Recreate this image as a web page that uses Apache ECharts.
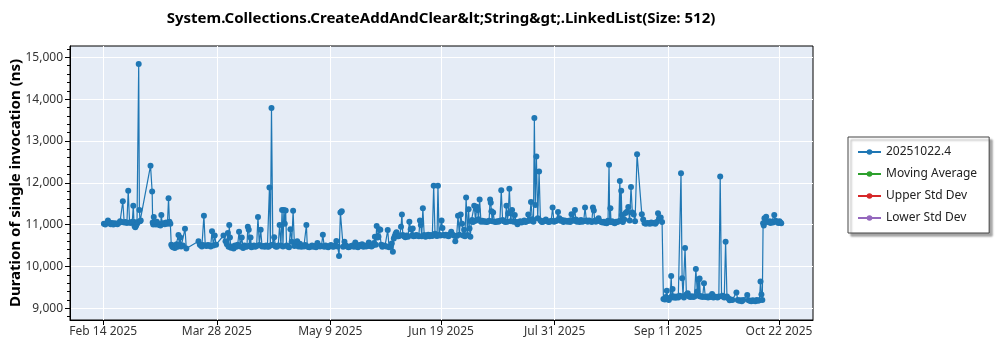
<!DOCTYPE html>
<html>
<head>
<meta charset="utf-8">
<script src="https://cdn.jsdelivr.net/npm/echarts@6/dist/echarts.min.js"></script>
<style>
  html, body { margin: 0; padding: 0; background: #ffffff; }
  #chart { width: 1000px; height: 350px; }
</style>
</head>
<body>
<div id="chart"></div>
<script>
// Benchmark run dates; each entry lists the timings (ns) recorded that day.
const runDates = [
  '2025-02-14','2025-02-15','2025-02-16','2025-02-17','2025-02-18','2025-02-19','2025-02-20','2025-02-21',
  '2025-02-22','2025-02-23','2025-02-24','2025-02-25','2025-02-26','2025-02-27','2025-03-03','2025-03-04',
  '2025-03-05','2025-03-06','2025-03-07','2025-03-08','2025-03-09','2025-03-10','2025-03-11','2025-03-12',
  '2025-03-13','2025-03-14','2025-03-15','2025-03-16','2025-03-21','2025-03-22','2025-03-23','2025-03-24',
  '2025-03-25','2025-03-26','2025-03-27','2025-03-30','2025-03-31','2025-04-01','2025-04-02','2025-04-03',
  '2025-04-04','2025-04-05','2025-04-06','2025-04-07','2025-04-08','2025-04-09','2025-04-10','2025-04-11',
  '2025-04-12','2025-04-13','2025-04-14','2025-04-15','2025-04-16','2025-04-17','2025-04-18','2025-04-19',
  '2025-04-20','2025-04-21','2025-04-22','2025-04-23','2025-04-24','2025-04-25','2025-04-26','2025-04-27',
  '2025-04-28','2025-04-29','2025-04-30','2025-05-01','2025-05-02','2025-05-03','2025-05-04','2025-05-05',
  '2025-05-06','2025-05-07','2025-05-08','2025-05-09','2025-05-10','2025-05-11','2025-05-12','2025-05-13',
  '2025-05-14','2025-05-15','2025-05-16','2025-05-17','2025-05-18','2025-05-19','2025-05-20','2025-05-21',
  '2025-05-22','2025-05-23','2025-05-24','2025-05-25','2025-05-26','2025-05-27','2025-05-28','2025-05-29',
  '2025-05-30','2025-05-31','2025-06-01','2025-06-02','2025-06-03','2025-06-04','2025-06-05','2025-06-06',
  '2025-06-07','2025-06-08','2025-06-09','2025-06-10','2025-06-11','2025-06-12','2025-06-13','2025-06-14',
  '2025-06-15','2025-06-16','2025-06-17','2025-06-18','2025-06-19','2025-06-20','2025-06-21','2025-06-22',
  '2025-06-23','2025-06-24','2025-06-25','2025-06-26','2025-06-27','2025-06-28','2025-06-29','2025-06-30',
  '2025-07-01','2025-07-02','2025-07-03','2025-07-04','2025-07-05','2025-07-06','2025-07-07','2025-07-08',
  '2025-07-09','2025-07-10','2025-07-11','2025-07-12','2025-07-13','2025-07-14','2025-07-15','2025-07-16',
  '2025-07-17','2025-07-18','2025-07-19','2025-07-20','2025-07-21','2025-07-22','2025-07-23','2025-07-24',
  '2025-07-25','2025-07-26','2025-07-27','2025-07-28','2025-07-29','2025-07-30','2025-07-31','2025-08-01',
  '2025-08-02','2025-08-03','2025-08-04','2025-08-05','2025-08-06','2025-08-07','2025-08-08','2025-08-09',
  '2025-08-10','2025-08-11','2025-08-12','2025-08-13','2025-08-14','2025-08-15','2025-08-16','2025-08-17',
  '2025-08-18','2025-08-19','2025-08-20','2025-08-21','2025-08-22','2025-08-23','2025-08-24','2025-08-25',
  '2025-08-26','2025-08-27','2025-08-28','2025-08-29','2025-08-30','2025-09-01','2025-09-02','2025-09-03',
  '2025-09-04','2025-09-05','2025-09-06','2025-09-07','2025-09-08','2025-09-09','2025-09-10','2025-09-11',
  '2025-09-12','2025-09-13','2025-09-14','2025-09-15','2025-09-16','2025-09-17','2025-09-18','2025-09-19',
  '2025-09-20','2025-09-21','2025-09-22','2025-09-23','2025-09-24','2025-09-25','2025-09-26','2025-09-27',
  '2025-09-28','2025-09-29','2025-09-30','2025-10-01','2025-10-02','2025-10-03','2025-10-04','2025-10-06',
  '2025-10-07','2025-10-08','2025-10-10','2025-10-11','2025-10-12','2025-10-13','2025-10-14','2025-10-15',
  '2025-10-16','2025-10-17','2025-10-18','2025-10-19','2025-10-20','2025-10-21','2025-10-22'
];

const durations = [
  [11020,11000],[11030,11100],[11050,11010],[11040,11000],[11030,11020],[11010,11040],[11080,11060],[11560,11050],
  [11060,11040],[11810,11050],[11040,11070],[11450,11060,10960,10940],[10980,11020,11060],[14840,11350,11080,11100],[12410],[11790,11050,11000,11180,11030],
  [11040,11000,11070],[11020,10990],[10980,11230,11020],[11030,11010],[11050,11020],[11630,11070,11020],[10520,10480,10460],[10500,10440,10490],
  [10530,10470,10750],[10520,10690,10480],[10500],[10900,10430],[10600,10520],[10500,10480,10510],[11210,10500],[10490,10510],
  [10500,10480],[10840,10500],[10740,10520],[10740],[10600,10530],[10800,10470,10990,10690],[10450,10480],[10430,10500],
  [10470,10520],[10830,10480],[10690,10440],[10500,10470],[10480,10950,10880],[10500,10690,10460],[10480,10500],[10470,10490],
  [11180,10510],[10880,10480],[10490,10470],[10500,10480],[10470,11890,10500],[13790,10520],[10700,10480],[10470,10500],
  [10990,10500],[11350,10480,11350],[11020,11340,10500],[10480,10460],[10890,10590],[11330,10490],[10510,10600],[10480,10540],
  [10470,10500],[10480,10510],[10990,10480,10470],[10460,10480],[10500,10470],[10490,10460],[10560,10500],[10480,10490],
  [10760,10470],[10500,10480],[10460,10490],[10510,10480],[10470,10500],[10610,10480],[10250,11290],[11320,10470],
  [10590,10500],[10480,10460],[10470,10490],[10500,10470],[10570,10480],[10460,10510],[10490,10530],[10470,10500],
  [10480,10490],[10570,10490],[10480,10500],[10560,10710,10520],[10970,10690,10710],[10890,10880,10520],[10470,10500],[10490,10480],
  [10870,10460],[10480,10550],[10350,10670,10720],[10780,10820,10720],[10720,10740],[10950,11240,10750],[10720,10700],[10740,10710],
  [11070,10890],[10740,10910,10720],[10730,10750],[10740,10720],[11100,10990,10720],[11390,10750],[10710,10740],[10760,10720],
  [10750,10730],[11930,10780],[10740,10730,11930],[10760,10740],[11100,10920,10750],[10740,10760],[10740,10720],[10770,10830],
  [10760,10740],[10600,10730],[11210,10760],[11240,11020],[10740,10880,10720],[11650,10750],[11370,10910,10710],[11080,11110,11060],
  [11450,11090],[11430,11350,11130],[11600,11070],[11090,11070],[11080,11060],[11070,11090],[11600,11520,11320,11080],[11290,11070],
  [11060,11080],[11070,11090],[11820,11110],[11080,11060],[11450,11070,11270],[11860,11080],[11350,11070],[11230,11060],
  [11010,11060],[11080,11050],[11070,11100],[11060,11080],[11240,11090],[11540,11130],[11070,13550,11470],[12630,11150],
  [12270,11100],[11060,11070],[11090,11120],[11080,11060],[11070,11090],[11410,11070],[11080,11100],[11300,11150],
  [11090,11110],[11060,11100],[11080,11070],[11090,11060],[11250,11110],[11090,11350,11120],[11070,11090],[11060,11110],
  [11070,11080],[11410,11100],[11070,11100],[11080,11060],[11410,11340,11090],[11070,11110],[11150,11080],[11060,11050],
  [11070,11040],[11030,11090],[12430,11070,11390,11060],[11080,11050],[11030,11070],[11060,11080],[12040,11100,11810,11230],[11060,11120],
  [11280,11310],[11420,11100],[11900,11290],[11240,11080],[12680],[11250,11120],[11030,11020],[11040,11030],
  [11020,11050],[11030,11040],[11020,11060],[11270,11150],[11170,11060],[9220,9210],[9270,9420,9230],[9200,9250],
  [9770,9290,9460,9260],[9280,9250],[9280,9260],[9300,12230],[9720,9290,9260],[10440,9330],[9360,9280],[9270,9290],
  [9270,9280],[9940,9400],[9680,9300,9710,9280],[9290,9270],[9600,9270],[9280,9260],[9290,9270],[9340,9260],
  [9280,9270],[9260,9280],[12150,9290],[9300,9260],[10590,9280],[9240,9190],[9210,9200],[9380,9200],
  [9180,9190],[9170,9200],[9320,9190],[9180,9170],[9190,9180],[9170,9200],[9180,9190],[9640,9330,9200],
  [11030,10980,11150,11060],[11190,11070],[11060,11080,11040],[11070,11050],[11230,11090],[11060,11040],[11080,11050,11030]
];

// Date axis tick labels and value axis ticks
const dateTicks = ['2025-02-14','2025-03-28','2025-05-09','2025-06-19','2025-07-31','2025-09-11','2025-10-22'];
const valueTicks = [9000, 10000, 11000, 12000, 13000, 14000, 15000];
const minorValueTicks = [8800, 9200, 9400, 9600, 9800, 10200, 10400, 10600, 10800, 11200, 11400, 11600, 11800,
  12200, 12400, 12600, 12800, 13200, 13400, 13600, 13800, 14200, 14400, 14600, 14800, 15200];

const legendNames = ['20251022.4', 'Moving Average', 'Upper Std Dev', 'Lower Std Dev'];
const legendColors = ['#1f77b4', '#2ca02c', '#d62728', '#9467bd'];

const chartTitle = 'System.Collections.CreateAddAndClear&lt;String&gt;.LinkedList(Size: 512)';
const yTitle = 'Duration of single invocation (ns)';

const DAY = 86400000;
const MONTHS = ['Jan','Feb','Mar','Apr','May','Jun','Jul','Aug','Sep','Oct','Nov','Dec'];
const toTime = s => Date.parse(s + 'T00:00:00Z');

// Spread each day's runs evenly across that day
const points = [];
runDates.forEach((d, i) => {
  const vals = durations[i];
  const base = toTime(d);
  vals.forEach((v, k) => points.push([base + (k + 0.5) / vals.length * DAY, v]));
});

const FONT = 'Noto Sans';
const chart = echarts.init(document.getElementById('chart'), null, { renderer: 'canvas' });

const series = [{
  name: legendNames[0],
  type: 'line',
  data: points,
  showSymbol: true,
  symbol: 'circle',
  symbolSize: 6,
  lineStyle: { width: 1.2, color: legendColors[0] },
  itemStyle: { color: legendColors[0] },
  emphasis: { disabled: true }
}];
for (let i = 1; i < legendNames.length; i++) {
  series.push({
    name: legendNames[i], type: 'line', data: [], symbol: 'circle', symbolSize: 6,
    lineStyle: { width: 1.2, color: legendColors[i] }, itemStyle: { color: legendColors[i] }
  });
}

chart.setOption({
  animation: false,
  backgroundColor: '#ffffff',
  textStyle: { fontFamily: FONT },
  graphic: [{
    type: 'text', x: 441, y: 19,
    style: {
      text: chartTitle, textAlign: 'center', textVerticalAlign: 'middle',
      font: 'bold 15px "' + FONT + '"', fill: '#000'
    }
  }],
  grid: {
    left: 70, right: 187, top: 46, bottom: 30,
    outerBoundsMode: 'none',
    show: true, backgroundColor: '#E5ECF6', borderColor: '#000', borderWidth: 1
  },
  legend: {
    orient: 'vertical', left: 848, top: 137,
    padding: [8, 12, 8, 9], itemGap: 8, itemWidth: 23, itemHeight: 7,
    backgroundColor: '#ffffff', borderColor: '#444', borderWidth: 1,
    shadowColor: 'rgba(0,0,0,0.35)', shadowOffsetX: 3, shadowOffsetY: 3, shadowBlur: 2,
    textStyle: { fontFamily: FONT, fontSize: 12, color: '#222', lineHeight: 14 },
    data: legendNames
  },
  xAxis: {
    type: 'value',
    min: Date.UTC(2025, 1, 1, 17),
    max: Date.UTC(2025, 10, 3, 14),
    axisLine: { show: true, lineStyle: { color: '#000', width: 1 } },
    axisTick: { show: true, length: 5, lineStyle: { color: '#000' }, customValues: dateTicks.map(toTime) },
    axisLabel: {
      customValues: dateTicks.map(toTime), color: '#333', fontSize: 12, fontFamily: FONT, margin: 6,
      formatter: v => { const d = new Date(v); return MONTHS[d.getUTCMonth()] + ' ' + d.getUTCDate() + ' ' + d.getUTCFullYear(); }
    },
    splitLine: { show: true, lineStyle: { color: '#ffffff', width: 1 } }
  },
  yAxis: [{
    type: 'value', position: 'left',
    min: 8720, max: 15270,
    name: yTitle, nameLocation: 'middle', nameGap: 47, nameRotate: 90,
    nameMoveOverlap: false,
    nameTextStyle: { fontFamily: FONT, fontSize: 15, fontWeight: 'bold', color: '#000' },
    axisLine: { show: true, lineStyle: { color: '#000', width: 1 } },
    axisTick: { show: true, length: 5, lineStyle: { color: '#000' }, customValues: valueTicks },
    axisLabel: {
      customValues: valueTicks, color: '#333', fontSize: 12, fontFamily: FONT, margin: 7,
      formatter: v => v.toLocaleString('en-US')
    },
    splitLine: { show: true, lineStyle: { color: '#ffffff', width: 1 } }
  }, {
    type: 'value', position: 'left',
    min: 8720, max: 15270,
    axisLine: { show: false },
    axisTick: { show: true, length: 3, lineStyle: { color: '#000' }, customValues: minorValueTicks },
    axisLabel: { show: false },
    splitLine: { show: false }
  }],
  series: series
});
</script>
</body>
</html>
